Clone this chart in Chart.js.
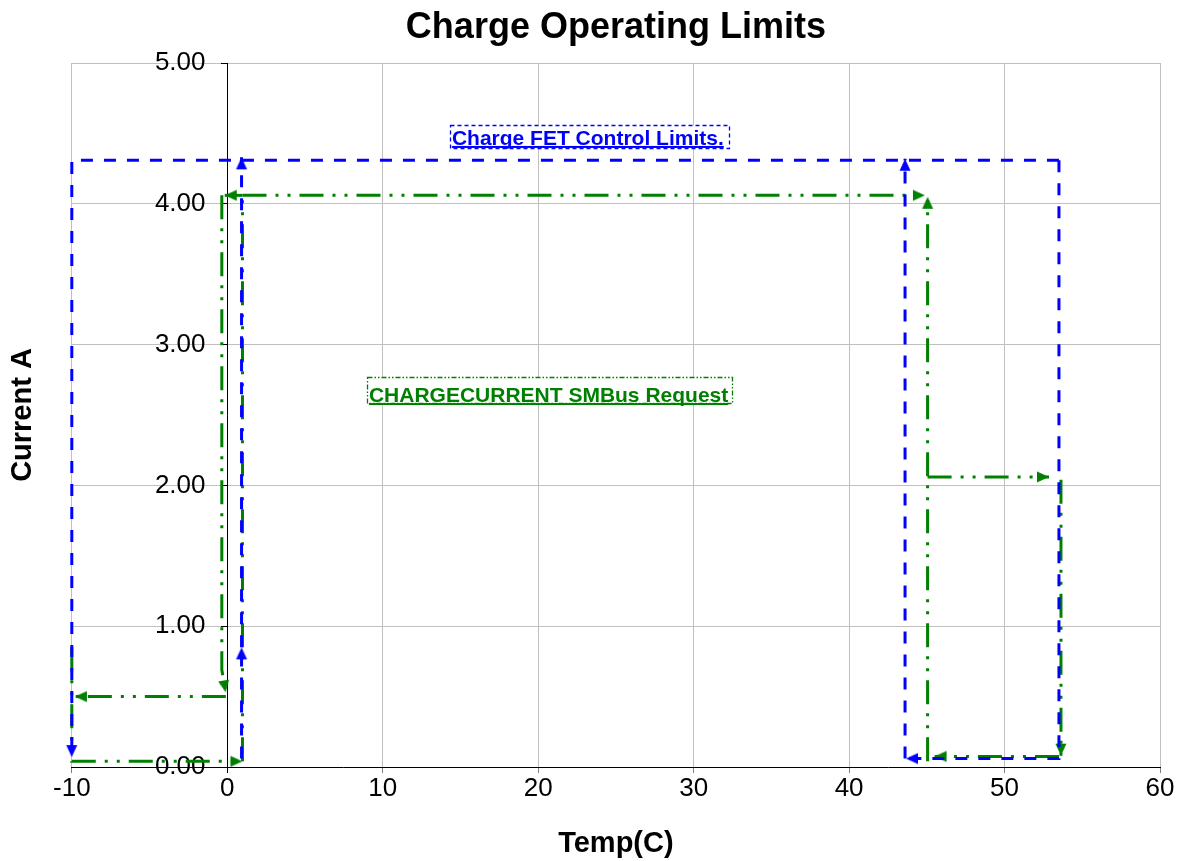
<!DOCTYPE html>
<html><head><meta charset="utf-8">
<script src="https://cdn.jsdelivr.net/npm/chart.js@4/dist/chart.umd.min.js"></script>
<style>html,body{margin:0;padding:0;background:#fff}</style>
</head><body>
<canvas id="c" width="1182" height="861"></canvas>
<script>
// ---------------- data ----------------
const xTicks = [-10, 0, 10, 20, 30, 40, 50, 60];
const yTicks = [0, 1, 2, 3, 4, 5];

// "Charge FET Control Limits" (blue, dashed) – each path ends in an arrow
const fetTopLeft   = [[53.5, 4.31], [-10, 4.31], [-10, 0.07]];
const fetRightDown = [[53.5, 4.31], [53.5, 0.06], [43.66, 0.06]];
const fetHotUp     = [[43.6, 0.06], [43.6, 4.32]];
const fetColdUpLow = [[0.92, 0.06], [0.92, 0.85]];
const fetColdUpHi  = [[0.92, 0.85], [0.92, 4.33]];

// "CHARGECURRENT SMBus Request" (green, dash-dot-dot)
const reqColdLow   = [[-10, 0.85], [-10, 0.04], [0.98, 0.04]];
const reqColdRise  = [[0.98, 0.04], [0.98, 4.06]];
const reqTopLeft   = [[0.98, 4.06], [-0.16, 4.06]];
const reqTopRight  = [[0.98, 4.06], [44.88, 4.06]];
const reqColdDrop  = [[-0.35, 4.06], [-0.35, 0.69], [-0.1, 0.53]];
const reqColdBack  = [[-0.09, 0.5], [-9.8, 0.5]];
const reqHotRise   = [[45.05, 0.04], [45.05, 4.05]];
const reqHotMid    = [[45.05, 2.06], [52.86, 2.06]];
const reqHotDrop   = [[53.63, 2.04], [53.63, 0.08]];
const reqHotBack   = [[53.5, 0.075], [45.5, 0.075]];

const seriesNames = ['Charge FET Control Limits.', 'CHARGECURRENT SMBus Request'];
// --------------------------------------

const F = 'Arial, "Liberation Sans", sans-serif';
const BLUE = '#0000ff', GREEN = '#008000';
const BLUE_DASH = [12, 11];
const GREEN_DASH = [24, 9, 3, 9, 3, 9];

function makeArrow(color) {
  const c = document.createElement('canvas');
  c.width = 26; c.height = 26;
  const g = c.getContext('2d');
  g.fillStyle = color;
  g.beginPath();
  g.moveTo(13, 13); g.lineTo(7.5, 25); g.lineTo(18.5, 25);
  g.closePath(); g.fill();
  return c;
}
const arrowBlue = makeArrow(BLUE), arrowGreen = makeArrow(GREEN);

function rotation(ctx) {
  const d = ctx.dataset.data, i = ctx.dataIndex;
  if (i < 1) return 0;
  const sx = ctx.chart.scales.x, sy = ctx.chart.scales.y;
  const dx = sx.getPixelForValue(d[i].x) - sx.getPixelForValue(d[i - 1].x);
  const dy = sy.getPixelForValue(d[i].y) - sy.getPixelForValue(d[i - 1].y);
  return Math.atan2(dx, -dy) * 180 / Math.PI;
}

function seg(points, color, dash, arrow, label) {
  return {
    label,
    data: points.map(p => ({x: p[0], y: p[1]})),
    showLine: true,
    borderColor: color,
    backgroundColor: color,
    borderWidth: 3,
    borderDash: dash,
    borderCapStyle: 'butt',
    fill: false,
    tension: 0,
    clip: false,
    pointStyle: color === BLUE ? arrowBlue : arrowGreen,
    pointRadius: points.map((p, i) => (arrow && i === points.length - 1) ? 6 : 0),
    pointRotation: rotation
  };
}

const datasets = [
  seg(fetTopLeft, BLUE, BLUE_DASH, true, seriesNames[0]),
  seg(fetRightDown, BLUE, BLUE_DASH, true, seriesNames[0]),
  seg(fetHotUp, BLUE, BLUE_DASH, true, seriesNames[0]),
  seg(fetColdUpLow, BLUE, BLUE_DASH, true, seriesNames[0]),
  seg(fetColdUpHi, BLUE, BLUE_DASH, true, seriesNames[0]),
  seg(reqColdLow, GREEN, GREEN_DASH, true, seriesNames[1]),
  seg(reqColdRise, GREEN, GREEN_DASH, false, seriesNames[1]),
  seg(reqTopLeft, GREEN, GREEN_DASH, true, seriesNames[1]),
  seg(reqTopRight, GREEN, GREEN_DASH, true, seriesNames[1]),
  seg(reqColdDrop, GREEN, GREEN_DASH, true, seriesNames[1]),
  seg(reqColdBack, GREEN, GREEN_DASH, true, seriesNames[1]),
  seg(reqHotRise, GREEN, GREEN_DASH, true, seriesNames[1]),
  seg(reqHotMid, GREEN, GREEN_DASH, true, seriesNames[1]),
  seg(reqHotDrop, GREEN, GREEN_DASH, true, seriesNames[1]),
  seg(reqHotBack, GREEN, GREEN_DASH, true, seriesNames[1])
];

// label text boxes anchored in data coordinates (text left / baseline)
const textBoxes = {
  id: 'textBoxes',
  afterDatasetsDraw(chart) {
    const {ctx, scales: {x, y}} = chart;
    const boxes = [
      {text: seriesNames[0], color: BLUE, ax: 14.45, ay: 4.418, padT: 20, padB: 3, padL: 2, padR: 5, dash: [4, 3]},
      {text: seriesNames[1], color: GREEN, ax: 9.11, ay: 2.592, padT: 25, padB: 1, padL: 2, padR: 4, dash: [5, 2, 1.5, 2, 1.5, 2]}
    ];
    for (const b of boxes) {
      ctx.save();
      ctx.font = 'bold 21px ' + F;
      const tx = x.getPixelForValue(b.ax), ty = y.getPixelForValue(b.ay);
      const w = ctx.measureText(b.text).width;
      const bx = Math.round(tx - b.padL) + 0.5, by = Math.round(ty - b.padT) + 0.5;
      const bw = Math.round(w + b.padL + b.padR), bh = Math.round(b.padT + b.padB);
      ctx.fillStyle = '#fff';
      ctx.fillRect(bx, by, bw, bh);
      ctx.strokeStyle = b.color; ctx.lineWidth = 1.3; ctx.setLineDash(b.dash);
      ctx.strokeRect(bx, by, bw, bh);
      ctx.fillStyle = b.color;
      ctx.textBaseline = 'alphabetic'; ctx.textAlign = 'left';
      ctx.fillText(b.text, tx, ty);
      ctx.fillRect(tx, ty + 1, w, 2);
      ctx.restore();
    }
  }
};

new Chart(document.getElementById('c'), {
  type: 'scatter',
  data: {datasets},
  options: {
    responsive: false,
    animation: false,
    events: [],
    layout: {padding: {left: 0, right: 22, top: 0, bottom: 0}},
    plugins: {
      legend: {display: false},
      tooltip: {enabled: false},
      title: {
        display: true, text: 'Charge Operating Limits', color: '#000', fullSize: false,
        font: {family: F, size: 36, weight: 'bold'}, padding: {top: 6, bottom: 13.8}
      }
    },
    scales: {
      x: {
        type: 'linear', min: -10, max: 60,
        afterBuildTicks: s => { s.ticks = xTicks.map(v => ({value: v})); },
        ticks: {font: {family: F, size: 26}, color: '#000', padding: 0, maxRotation: 0, autoSkip: false},
        grid: {color: '#c0c0c0', lineWidth: 1, tickLength: 6,
               tickColor: c => (c.tick && c.tick.value === 0) ? '#000' : '#808080'},
        border: {display: true, color: '#000', width: 1},
        title: {display: true, text: 'Temp(C)', color: '#000',
                font: {family: F, size: 29, weight: 'bold'}, padding: {top: 22, bottom: 0}}
      },
      y: {
        type: 'linear', position: 'left', min: 0, max: 5,
        afterBuildTicks: s => { s.ticks = yTicks.map(v => ({value: v})); },
        ticks: {display: false},
        grid: {color: '#c0c0c0', lineWidth: 1, drawTicks: false},
        border: {display: false},
        title: {display: true, text: 'Current A', color: '#000',
                font: {family: F, size: 29, weight: 'bold'}, padding: {top: 6, bottom: 31}}
      },
      yAxisLine: {
        axis: 'y', type: 'linear', position: {x: 0}, min: 0, max: 5,
        afterBuildTicks: s => { s.ticks = yTicks.map(v => ({value: v})); },
        ticks: {display: false},
        grid: {drawOnChartArea: false, drawTicks: true, tickLength: 6, tickColor: '#000'},
        border: {display: true, color: '#000', width: 1}
      },
      yLabels: {
        axis: 'y', type: 'linear', position: {x: -1.4}, min: 0, max: 5,
        afterBuildTicks: s => { s.ticks = yTicks.map(v => ({value: v})); },
        ticks: {font: {family: F, size: 26}, color: '#000', padding: 0, callback: v => Number(v).toFixed(2)},
        grid: {display: false},
        border: {display: false}
      }
    }
  },
  plugins: [textBoxes]
});
</script>
</body></html>
